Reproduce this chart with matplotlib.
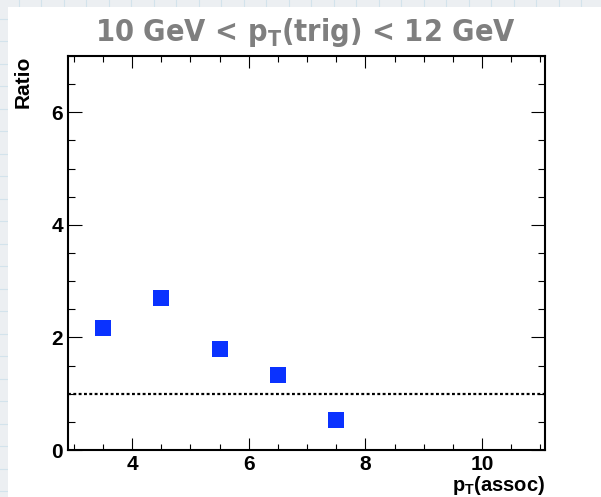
import numpy as np
import matplotlib
matplotlib.use('Agg')
import matplotlib.pyplot as plt
from matplotlib.ticker import MultipleLocator
from matplotlib.patches import Rectangle

# ratio vs associated-particle pT, trigger window 10-12 GeV
pt_assoc = [3.5, 4.5, 5.5, 6.5, 7.5]
ratio = [2.16, 2.70, 1.79, 1.33, 0.53]
reference_level = 1.0

title = r'10 GeV < p$_\mathregular{T}$(trig) < 12 GeV'
xlabel = r'p$_\mathregular{T}$(assoc)'
ylabel = 'Ratio'

W, H = 601, 497
fig = plt.figure(figsize=(W / 100.0, H / 100.0), dpi=100)
fig.patch.set_facecolor('#eceff2')

# squared paper behind the white sheet
bg = fig.add_axes([0, 0, 1, 1], zorder=-10)
bg.set_xlim(0, W)
bg.set_ylim(H, 0)
bg.axis('off')
for g in np.arange(-4, W, 22.5):
    bg.axvline(g, color='#d3e3ec', lw=0.8, zorder=1)
for g in np.arange(-4, H, 22.5):
    bg.axhline(g, color='#d3e3ec', lw=0.8, zorder=1)
bg.add_patch(Rectangle((8, 7), W, H, facecolor='white', edgecolor='none', zorder=5))

ax = fig.add_axes([68.0 / W, 47.0 / H, 477.0 / W, 394.0 / H])
ax.set_facecolor('none')

ax.plot(pt_assoc, ratio, linestyle='none', marker='s', markersize=12.2,
        markerfacecolor='#0a32ff', markeredgewidth=0, zorder=3)
ax.axhline(reference_level, color='black', lw=1.6, linestyle=(0, (1.3, 1.1)))

ax.set_xlim(2.9, 11.08)
ax.set_ylim(0, 7)
ax.xaxis.set_major_locator(MultipleLocator(2))
ax.xaxis.set_minor_locator(MultipleLocator(0.5))
ax.yaxis.set_major_locator(MultipleLocator(2))
ax.yaxis.set_minor_locator(MultipleLocator(0.5))

ax.tick_params(which='both', direction='in', top=True, right=True, width=0.8,
               labelsize=15)
ax.tick_params(axis='x', which='major', length=8.6, pad=3.5)
ax.tick_params(axis='x', which='minor', length=4.3)
ax.tick_params(axis='y', which='major', length=10, pad=3.5)
ax.tick_params(axis='y', which='minor', length=5)
for lab in ax.get_xticklabels() + ax.get_yticklabels():
    lab.set_fontfamily('Liberation Sans')
    lab.set_fontweight('bold')
for s in ax.spines.values():
    s.set_linewidth(1.5)

ax.set_xlabel(xlabel, fontsize=14.5, fontweight='bold', family='Liberation Sans',
              ha='right', va='top')
ax.xaxis.set_label_coords(1.0, -0.061)
ax.set_ylabel(ylabel, fontsize=15, fontweight='bold', family='Liberation Sans',
              ha='right', va='bottom')
ax.yaxis.set_label_coords(-0.075, 1.0)

fig.text(0.509, 0.934, title, ha='center', va='center', fontsize=22,
         fontweight='bold', fontstretch='condensed', color='#7f7f7f',
         family='DejaVu Sans')

fig.savefig('out.png', dpi=100, facecolor=fig.get_facecolor())
